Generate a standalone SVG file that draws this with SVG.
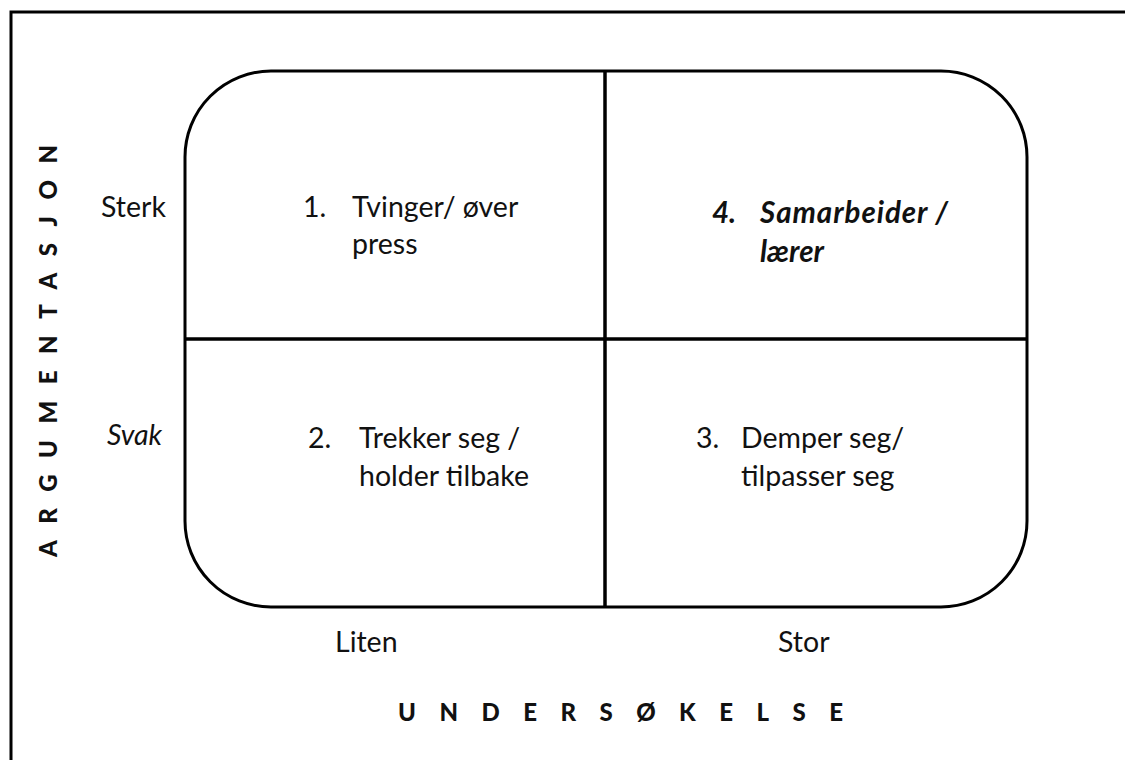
<svg xmlns="http://www.w3.org/2000/svg" width="1125" height="760" viewBox="0 0 1125 760">
  <style>
    .frame { fill: none; stroke: #000; stroke-width: 3; }
    .divider { fill: none; stroke: #000; stroke-width: 3.5; }
    .t { font-family: Lato, "Liberation Sans", sans-serif; font-size: 28.5px; fill: #111; }
    .axis { font-family: Lato, "Liberation Sans", sans-serif; font-size: 24px; font-weight: 900; fill: #111; }
    .em { font-weight: bold; font-style: italic; font-size: 29.5px; }
    .it { font-style: italic; }
  </style>
  <rect width="1125" height="760" fill="#fff"/>
  <!-- outer border (right and bottom edges fall outside the canvas) -->
  <rect class="frame" x="11" y="12" width="1130" height="760"/>

  <!-- matrix body -->
  <g id="matrix">
    <rect class="frame" x="185" y="71" width="842" height="536" rx="86" ry="86"/>
  </g>
  <g id="connectors">
    <line class="divider" x1="605" y1="71" x2="605" y2="607"/>
    <line class="divider" x1="185" y1="339" x2="1027" y2="339"/>
  </g>

  <!-- quadrants -->
  <g id="q1">
    <text class="t" x="303" y="217">1.</text>
    <text class="t" x="352" y="217">Tvinger/ øver</text>
    <text class="t" x="352" y="254">press</text>
  </g>
  <g id="q4">
    <text class="t em" x="712" y="223">4.</text>
    <text class="t em" x="760" y="223" textLength="188" lengthAdjust="spacing">Samarbeider /</text>
    <text class="t em" x="760" y="262">lærer</text>
  </g>
  <g id="q2">
    <text class="t" x="308" y="448">2.</text>
    <text class="t" x="359" y="448">Trekker seg /</text>
    <text class="t" x="359" y="486">holder tilbake</text>
  </g>
  <g id="q3">
    <text class="t" x="696" y="448">3.</text>
    <text class="t" x="741" y="448">Demper seg/</text>
    <text class="t" x="741" y="486">tilpasser seg</text>
  </g>

  <!-- axis labels -->
  <g id="y-axis">
    <text class="t" x="101" y="217">Sterk</text>
    <text class="t it" x="107" y="445">Svak</text>
    <text class="axis" transform="translate(57,557) rotate(-90)" x="0" y="0" textLength="412" lengthAdjust="spacing">ARGUMENTASJON</text>
  </g>
  <g id="x-axis">
    <text class="t" x="335" y="652">Liten</text>
    <text class="t" x="778" y="652">Stor</text>
    <text class="axis" x="398" y="721" textLength="445" lengthAdjust="spacing">UNDERSØKELSE</text>
  </g>
</svg>
